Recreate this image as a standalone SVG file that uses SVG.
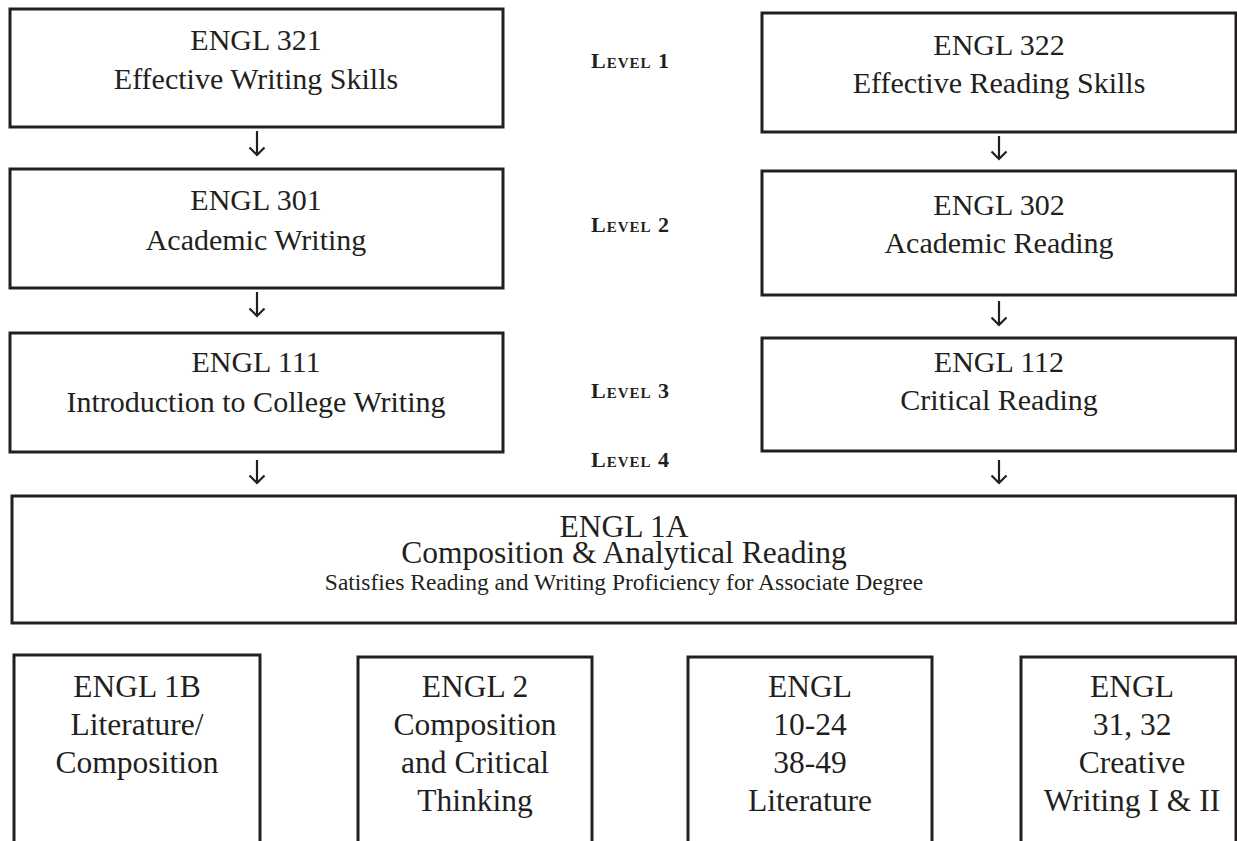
<svg xmlns="http://www.w3.org/2000/svg" width="1237" height="841" viewBox="0 0 1237 841">
<style>
.box{fill:#fff;stroke:#231f20;stroke-width:3}
.t{font-family:"Liberation Serif",serif;font-size:30px;fill:#231f20;text-anchor:middle}
.b{font-family:"Liberation Serif",serif;font-size:31.5px;fill:#231f20;text-anchor:middle}
.m{font-family:"Liberation Serif",serif;font-size:31.5px;fill:#231f20;text-anchor:middle}
.s{font-family:"Liberation Serif",serif;font-size:23.5px;fill:#231f20;text-anchor:middle}
.lv{font-family:"Liberation Serif",serif;font-size:22px;font-weight:bold;font-variant:small-caps;fill:#231f20;letter-spacing:1px}
.arr{fill:none;stroke:#231f20;stroke-width:2.2}
</style>
<rect width="1237" height="841" fill="#fff"/>
<g id="levels">
<text class="lv" x="591" y="68">Level 1</text>
<text class="lv" x="591" y="232">Level 2</text>
<text class="lv" x="591" y="398">Level 3</text>
<text class="lv" x="591" y="467">Level 4</text>
</g>
<g id="n321"><rect class="box" x="10" y="9" width="493" height="118"/><text class="t" x="256" y="50">ENGL 321</text><text class="t" x="256" y="89">Effective Writing Skills</text></g>
<g id="n322"><rect class="box" x="762" y="13" width="474" height="119"/><text class="t" x="999" y="55">ENGL 322</text><text class="t" x="999" y="93">Effective Reading Skills</text></g>
<g id="n301"><rect class="box" x="10" y="169" width="493" height="119"/><text class="t" x="256" y="210">ENGL 301</text><text class="t" x="256" y="250">Academic Writing</text></g>
<g id="n302"><rect class="box" x="762" y="171" width="474" height="124"/><text class="t" x="999" y="215">ENGL 302</text><text class="t" x="999" y="253">Academic Reading</text></g>
<g id="n111"><rect class="box" x="10" y="333" width="493" height="119"/><text class="t" x="256" y="372">ENGL 111</text><text class="t" x="256" y="412">Introduction to College Writing</text></g>
<g id="n112"><rect class="box" x="762" y="338" width="474" height="113"/><text class="t" x="999" y="372">ENGL 112</text><text class="t" x="999" y="410">Critical Reading</text></g>
<g id="n1a"><rect class="box" x="12" y="496" width="1224" height="127"/><text class="m" x="624" y="537">ENGL 1A</text><text class="m" x="624" y="563">Composition &amp; Analytical Reading</text><text class="s" x="624" y="590">Satisfies Reading and Writing Proficiency for Associate Degree</text></g>
<g id="n1b"><rect class="box" x="14" y="655" width="246" height="200"/><text class="b" x="137" y="697">ENGL 1B</text><text class="b" x="137" y="735">Literature/</text><text class="b" x="137" y="773">Composition</text></g>
<g id="n2"><rect class="box" x="358" y="657" width="234" height="200"/><text class="b" x="475" y="697">ENGL 2</text><text class="b" x="475" y="735">Composition</text><text class="b" x="475" y="773">and Critical</text><text class="b" x="475" y="811">Thinking</text></g>
<g id="nlit"><rect class="box" x="688" y="657" width="244" height="200"/><text class="b" x="810" y="697">ENGL</text><text class="b" x="810" y="735">10-24</text><text class="b" x="810" y="773">38-49</text><text class="b" x="810" y="811">Literature</text></g>
<g id="ncw"><rect class="box" x="1021" y="657" width="215" height="200"/><text class="b" x="1132" y="697">ENGL</text><text class="b" x="1132" y="735">31, 32</text><text class="b" x="1132" y="773">Creative</text><text class="b" x="1132" y="811">Writing I &amp; II</text></g>
<g id="connectors">
<path class="arr" d="M257,131V155M249.5,147.5L257,155L264.5,147.5"/>
<path class="arr" d="M257,292V316M249.5,308.5L257,316L264.5,308.5"/>
<path class="arr" d="M257,460V483M249.5,475.5L257,483L264.5,475.5"/>
<path class="arr" d="M999,136V159M991.5,151.5L999,159L1006.5,151.5"/>
<path class="arr" d="M999,301V325M991.5,317.5L999,325L1006.5,317.5"/>
<path class="arr" d="M999,460V483M991.5,475.5L999,483L1006.5,475.5"/>
</g>
</svg>
